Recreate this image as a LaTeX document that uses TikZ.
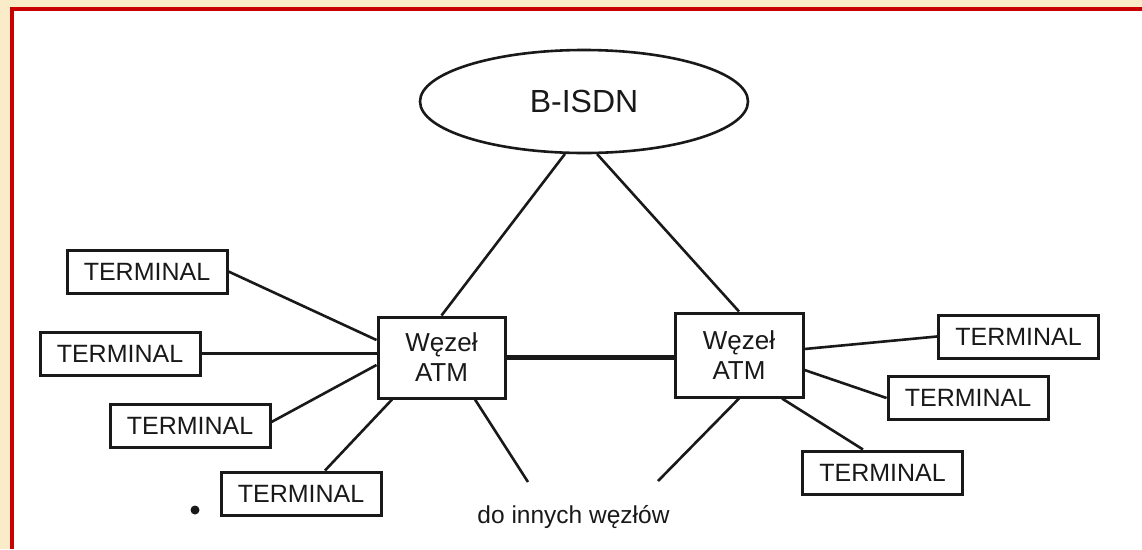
\documentclass[tikz,border=0pt]{standalone}
\usepackage{fontspec}
\setmainfont{Liberation Sans}
\usetikzlibrary{shapes.geometric,calc}
\definecolor{cream}{RGB}{250,236,200}
\definecolor{frame}{RGB}{200,0,0}
\tikzset{
  conn/.style={line width=2.6pt, black!90},
  termbox/.style={draw=black!90, line width=3pt, fill=white, minimum width=160pt, minimum height=43pt, inner sep=0pt, font=\fontsize{25}{30}\selectfont, text=black!90},
  atmbox/.style={draw=black!90, line width=3pt, fill=white, inner sep=0pt, align=center, font=\fontsize{26}{30}\selectfont, text=black!90},
  cloud/.style={ellipse, draw=black!90, line width=2.6pt, fill=white, minimum width=328pt, minimum height=103pt, inner sep=0pt, font=\fontsize{32}{36}\selectfont, text=black!90},
  lbl/.style={font=\fontsize{24.5}{28}\selectfont, text=black!90, inner sep=0pt}
}
\begin{document}
\begin{tikzpicture}[x=1pt,y=-1pt]
\path[use as bounding box] (0,0) rectangle (1142,549);
\fill[cream] (0,0) rectangle (1142,549);
\fill[frame] (10,7) rectangle (1142,549);
\fill[white] (14,11) rectangle (1142,549);

\coordinate (c1) at (528,482);
\coordinate (c2) at (658,481);

\node[cloud] (bisdn) at (584,101.5) {B-ISDN};
\node[atmbox, minimum width=127pt, minimum height=81pt] (wl) at (441.5,357.5) {Węzeł\\ATM};
\node[atmbox, minimum width=128pt, minimum height=84pt] (wr) at (739,355) {Węzeł\\ATM};

\node[termbox] (t1) at (147,271.5) {TERMINAL};
\node[termbox] (t2) at (120,353.5) {TERMINAL};
\node[termbox] (t3) at (190,426) {TERMINAL};
\node[termbox] (t4) at (301,493.5) {TERMINAL};
\node[termbox] (r1) at (1018.5,336.5) {TERMINAL};
\node[termbox] (r2) at (968,398) {TERMINAL};
\node[termbox] (r3) at (882.5,472.5) {TERMINAL};

\node[lbl, anchor=base] (dest) at (573.5,523) {do innych węzłów};
\fill[black!90] (195,510) circle (4.5pt);

\draw[conn] (wl.north) -- (bisdn.250.6);
\draw[conn] (wr.north) -- (bisdn.284.2);
\draw[line width=4.3pt, black!90] (wl.east) -- (wl.east -| wr.west);

\draw[conn] (t1.east) -- ($(wl.west)+(0,-17.5)$);
\draw[conn] (t2.east) -- (t2.east -| wl.west);
\draw[conn] ($(t3.east)+(0,-4)$) -- ($(wl.west)+(0,7.5)$);
\draw[conn] ($(t4.north)+(24,0)$) -- ($(wl.south)+(-49.5,0)$);
\draw[conn] ($(wl.south)+(33.5,0)$) -- (c1);

\draw[conn] ($(wr.east)+(0,-6)$) -- (r1.west);
\draw[conn] ($(wr.east)+(0,15)$) -- (r2.west);
\draw[conn] ($(wr.south)+(43,0)$) -- ($(r3.north)+(-19.5,0)$);
\draw[conn] (wr.south) -- (c2);
\end{tikzpicture}
\end{document}
